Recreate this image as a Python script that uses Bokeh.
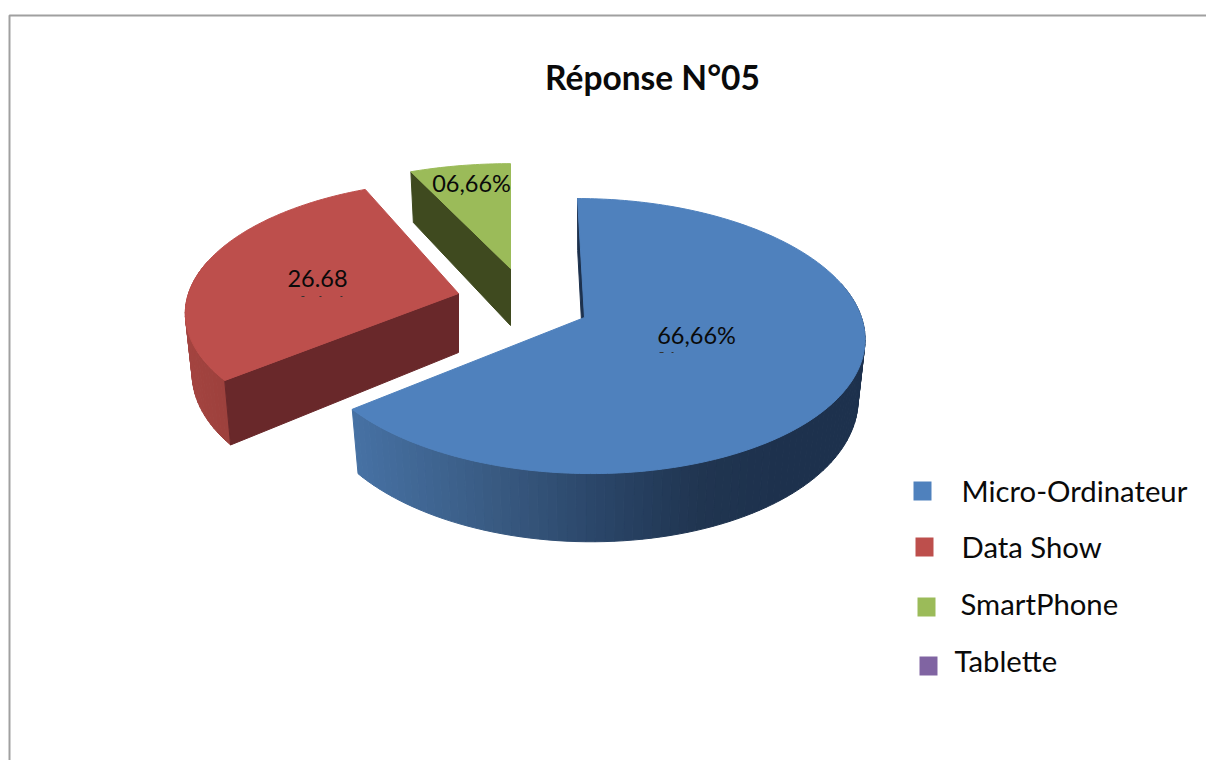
import numpy as np
from bokeh.plotting import figure
from bokeh.models import Range1d
from bokeh.core.properties import value
from bokeh.embed import file_html
from bokeh.resources import INLINE

# ---- data
title = "Réponse N°05"
categories = ["Micro-Ordinateur", "Data Show", "SmartPhone", "Tablette"]
# shares as the slices are actually drawn (the printed labels were typed by hand)
series_values = [64.3, 29.03, 6.67, 0.0]
data_labels = ["66,66%", "26.68", "06,66%", ""]

# ---- styles
top_colors = ["#4f81bd", "#bd4f4c", "#9bbb59", "#8064a2"]
FONT = "Lato"

# ---- layout of the 3D projection, per slice: apex x, apex y, rx, ry, shear, depth
slice_geom = [(584, 317, 277, 135, 7, 59), (458, 293, 270, 128, -5, 59), (510, 268, 275, 119, 0, 57)]
PERSP = 0.135
SHRINK = 0.975

p = figure(width=1206, height=760, output_backend="svg", toolbar_location=None,
           x_range=Range1d(0, 1206), y_range=Range1d(760, 0), min_border=0,
           outline_line_color=None, background_fill_color="white")
p.axis.visible = False
p.grid.visible = False


def top_pt(theta_deg, g):
    cx, cy, a, c, sh, d = g
    t = np.radians(theta_deg)
    X, Y = np.sin(t), -np.cos(t)
    s = 1 / (1 - PERSP * Y)
    return cx + a * X * s + sh * Y, cy + c * Y * s


def bot_pt(theta_deg, g):
    cx, cy, a, c, sh, d = g
    t = np.radians(theta_deg)
    Y = -np.cos(t)
    s = 1 / (1 - PERSP * Y)
    x, y = top_pt(theta_deg, g)
    return cx + SHRINK * (x - cx), y + d * s


def lerp_color(x, stops):
    xs = [q[0] for q in stops]
    out = [np.interp(x, xs, [q[1][i] for q in stops]) for i in range(3)]
    return "#%02x%02x%02x" % tuple(int(round(v)) for v in out)


blue_wall = [(355, (70, 113, 163)), (500, (56, 89, 128)), (600, (42, 69, 104)),
             (700, (32, 53, 80)), (780, (29, 49, 77)), (870, (29, 49, 77))]
red_wall = [(180, (164, 68, 64)), (230, (156, 64, 60))]


def wall(t0, t1, g, stops, n=70):
    ts = np.linspace(t0, t1, n + 1)
    xs, ys, cs = [], [], []
    for a, b in zip(ts[:-1], ts[1:]):
        xa, ya = top_pt(a, g); xb, yb = top_pt(b, g)
        xc, yc = bot_pt(b, g); xd, yd = bot_pt(a, g)
        xs.append([xa, xb, xc, xd]); ys.append([ya, yb, yc, yd])
        cs.append(lerp_color((xa + xb) / 2, stops))
    p.patches(xs, ys, fill_color=cs, line_color=cs, line_width=1)


def radial_face(theta, g, color):
    cx, cy, d = g[0], g[1], g[5]
    x0, y0 = top_pt(theta, g)
    x1, y1 = bot_pt(theta, g)
    p.patch([cx, x0, x1, cx], [cy, y0, y1, cy + d], fill_color=color, line_color=color, line_width=1)


def top_face(t0, t1, g, color):
    ts = np.linspace(t0, t1, max(8, int(t1 - t0)))
    xr, yr = top_pt(ts, g)
    p.patch(np.r_[g[0], xr], np.r_[g[1], yr], fill_color=color, line_color=color, line_width=1)


bounds = np.r_[0, np.cumsum(series_values)] * 3.6
starts, ends = bounds[:-1], bounds[1:]

# green slice
radial_face(starts[2], slice_geom[2], "#3f4a1f")
top_face(starts[2], ends[2], slice_geom[2], top_colors[2])

# red slice
wall(starts[1], 285, slice_geom[1], red_wall, n=30)
radial_face(starts[1], slice_geom[1], "#69282a")
top_face(starts[1], ends[1], slice_geom[1], top_colors[1])

# blue slice
radial_face(starts[0], slice_geom[0], "#1d314d")
wall(75, ends[0], slice_geom[0], blue_wall, n=90)
top_face(starts[0], ends[0], slice_geom[0], top_colors[0])

# data labels
label_pos = [(696, 334), (317, 278), (471, 182)]
for (lx, ly), txt in zip(label_pos, data_labels):
    p.text([lx], [ly], text=[txt], text_font=value(FONT), text_font_size="23.5px",
           text_color="#0a0a0a", text_align="center", text_baseline="middle")

# little scan remnants under two labels
p.segment([301, 319, 340, 659, 671], [296, 296, 296, 352, 352],
          [304, 321, 342, 663, 673], [296, 296, 296, 352, 352], line_color="#333333", line_width=1)

# title
p.text([652], [76], text=[title], text_font=value(FONT), text_font_style="bold",
       text_font_size="33.5px", text_color="#0a0a0a", text_align="center", text_baseline="middle")

# legend
swatch_x = [913, 915, 917, 919]
swatch_y = [481, 537, 597, 656]
text_x = [961, 961, 960, 954]
text_y = [490, 546, 603, 660]
for sx, sy, col, tx, ty, cat in zip(swatch_x, swatch_y, top_colors, text_x, text_y, categories):
    p.quad(left=[sx], right=[sx + 18], top=[sy], bottom=[sy + 19], fill_color=col, line_color=None)
    p.text([tx], [ty], text=[cat], text_font=value(FONT), text_font_size="29.3px",
           text_color="#0a0a0a", text_align="left", text_baseline="middle")

# outer frame of the chart
p.line([9, 9, 1206], [760, 15, 15], line_color="#a0a0a0", line_width=2)

open("out.html", "w").write(file_html(p, INLINE))
